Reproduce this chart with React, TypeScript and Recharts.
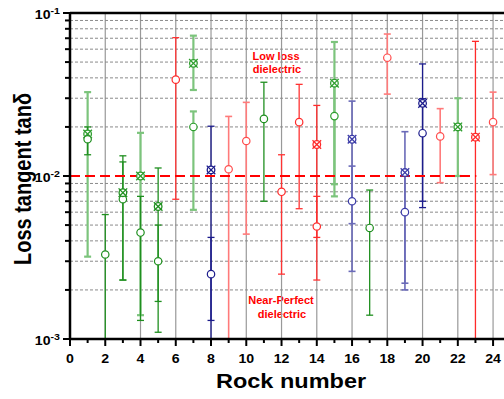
import React from 'react'
import { ScatterChart, Scatter, XAxis, YAxis, ErrorBar, ReferenceLine } from 'recharts'

// each entry: [rock, tan delta, lower bound, upper bound]
// lower bounds that run off the bottom of the plot are set to the axis floor (1e-3)
const greenCircles = [
  [1, 0.0168, 0.0135, 0.02],
  [2, 0.0033, 0.001, 0.0058],
  [3, 0.0072, 0.0023, 0.0122],
  [4, 0.0045, 0.0013, 0.0075],
  [5, 0.003, 0.0017, 0.005],
  [11, 0.0224, 0.007, 0.0376],
  [17, 0.0048, 0.0014, 0.0082],
]
const greenCrosses = [
  [3, 0.0079, 0.0023, 0.0133],
  [5, 0.0065, 0.0011, 0.0112],
]
const paleGreenCircles = [
  [7, 0.02, 0.0062, 0.0249],
  [15, 0.0233, 0.0075, 0.0371],
]
const paleGreenCrosses = [
  [1, 0.0181, 0.0032, 0.0327],
  [4, 0.01, 0.0014, 0.0184],
  [7, 0.0491, 0.0337, 0.0726],
  [15, 0.0371, 0.0089, 0.0664],
  [22, 0.02, 0.01, 0.03],
]
const redCircles = [
  [6, 0.039, 0.0072, 0.0706],
  [12, 0.008, 0.0025, 0.0135],
  [13, 0.0214, 0.0063, 0.0365],
  [14, 0.0049, 0.0023, 0.0075],
]
const redCrosses = [
  [14, 0.0156, 0.0042, 0.0271],
  [23, 0.0173, 0.001, 0.067],
]
const paleRedCircles = [
  [9, 0.011, 0.001, 0.0232],
  [10, 0.0164, 0.0044, 0.0283],
  [18, 0.0532, 0.0318, 0.0743],
  [21, 0.0175, 0.0091, 0.0259],
  [24, 0.0214, 0.0102, 0.0327],
]
const blueCircles = [
  [8, 0.0025, 0.0013, 0.0042],
  [20, 0.0183, 0.0064, 0.0487],
]
const blueCrosses = [
  [8, 0.0109, 0.001, 0.0202],
  [20, 0.0279, 0.007, 0.0298],
]
const paleBlueCircles = [
  [16, 0.007, 0.0026, 0.0115],
  [19, 0.006, 0.0022, 0.0105],
]
const paleBlueCrosses = [
  [16, 0.0168, 0.0051, 0.0288],
  [19, 0.0105, 0.002, 0.0187],
]

const xTicks = [0, 1, 2, 3, 4, 5, 6, 7, 8, 9, 10, 11, 12, 13, 14, 15, 16, 17, 18, 19, 20, 21, 22, 23, 24]
const xGridLines = [2, 4, 6, 8, 10, 12, 14, 16, 18, 20, 22, 24]
const yMajorTicks = [0.001, 0.01, 0.1]
const yMajorLabels = ['-3', '-2', '-1']
const yMinorTicks = [
  0.002, 0.003, 0.004, 0.005, 0.006, 0.007, 0.008, 0.009,
  0.02, 0.03, 0.04, 0.05, 0.06, 0.07, 0.08, 0.09,
]
const limitLine = 0.01

const FONT = '"Liberation Sans", Arial, sans-serif'
// the original figure is a bit wider than tall, so text is stretched sideways
const STRETCH = 1.18

const toPoints = (rows: number[][]) =>
  rows.map(([x, y, lo, hi]) => ({ x, y, err: [y - lo, hi - y] }))

const CircleMark = (color: string) => (p: any) => (
  <circle cx={p.cx} cy={p.cy} r={3.7} fill="#fff" stroke={color} strokeWidth={1.2} />
)

const CrossMark = (color: string) => (p: any) => (
  <g stroke={color} strokeWidth={1.3}>
    <circle cx={p.cx} cy={p.cy} r={3.8} fill="#fff" />
    <line x1={p.cx - 4.3} y1={p.cy - 4.3} x2={p.cx + 4.3} y2={p.cy + 4.3} />
    <line x1={p.cx - 4.3} y1={p.cy + 4.3} x2={p.cx + 4.3} y2={p.cy - 4.3} />
  </g>
)

const series = [
  { rows: paleGreenCrosses, mark: CrossMark, color: '#2e9e2e', bar: '#7cc47c', w: 2.2 },
  { rows: paleGreenCircles, mark: CircleMark, color: '#2e9e2e', bar: '#7cc47c', w: 2.2 },
  { rows: greenCircles, mark: CircleMark, color: '#1f8f1f', bar: '#1f8f1f', w: 1.3 },
  { rows: greenCrosses, mark: CrossMark, color: '#1f8f1f', bar: '#1f8f1f', w: 1.3 },
  { rows: paleRedCircles, mark: CircleMark, color: '#ff4d4d', bar: '#ff7a7a', w: 1.6 },
  { rows: redCircles, mark: CircleMark, color: '#ff2a2a', bar: '#ff3333', w: 1.3 },
  { rows: redCrosses, mark: CrossMark, color: '#ff2a2a', bar: '#ff2a2a', w: 1.3 },
  { rows: paleBlueCircles, mark: CircleMark, color: '#3c3ca8', bar: '#6a6ab8', w: 1.6 },
  { rows: paleBlueCrosses, mark: CrossMark, color: '#3c3ca8', bar: '#6a6ab8', w: 1.6 },
  { rows: blueCircles, mark: CircleMark, color: '#1c1c8c', bar: '#1c1c8c', w: 1.3 },
  { rows: blueCrosses, mark: CrossMark, color: '#1c1c8c', bar: '#1c1c8c', w: 1.3 },
]

const BottomTick = ({ x, y, payload }: any) => {
  const major = payload.value % 2 === 0
  return (
    <g>
      <line x1={x} x2={x} y1={y} y2={y + (major ? 7 : 4)} stroke="#000" strokeWidth={2} />
      {major && (
        <g transform={`translate(${x},${y + 24}) scale(${STRETCH},1)`}>
          <text x={0} y={0} textAnchor="middle" fontSize={12} fontWeight="bold" fontFamily={FONT} fill="#000">
            {payload.value}
          </text>
        </g>
      )}
    </g>
  )
}

const TopTick = ({ x, y, payload }: any) => {
  const major = payload.value % 2 === 0
  return <line x1={x} x2={x} y1={y} y2={y + (major ? 6 : 4)} stroke="#000" strokeWidth={2} />
}

const LeftTick = ({ x, y, payload }: any) => {
  const idx = yMajorTicks.indexOf(payload.value)
  const major = idx >= 0
  return (
    <g>
      <line x1={x - (major ? 7 : 5)} x2={x} y1={y} y2={y} stroke="#000" strokeWidth={2} />
      {major && (
        <g transform={`translate(${x - 10},${y + 6}) scale(${STRETCH},1)`}>
          <text x={0} y={0} textAnchor="end" fontWeight="bold" fontFamily={FONT} fill="#000">
            <tspan fontSize={12}>10</tspan>
            <tspan fontSize={9} dy={-5}>{yMajorLabels[idx]}</tspan>
          </text>
        </g>
      )}
    </g>
  )
}

export default function App() {
  return (
    <div style={{ position: 'absolute', left: 0, top: 0, width: 504, height: 399, background: '#fff' }}>
      <ScatterChart width={504} height={399} margin={{ top: 0, right: 0, bottom: 0, left: 0 }}>
        <XAxis
          dataKey="x"
          type="number"
          domain={[0, 24.62]}
          ticks={xTicks}
          interval={0}
          allowDataOverflow
          height={60}
          tickLine={false}
          tickSize={0}
          tickMargin={0}
          tick={(p: any) => <BottomTick {...p} />}
          axisLine={{ stroke: '#000', strokeWidth: 2.5 }}
        />
        <XAxis
          xAxisId="top"
          orientation="top"
          type="number"
          domain={[0, 24.62]}
          ticks={xTicks}
          interval={0}
          allowDataOverflow
          height={13}
          tickLine={false}
          tickSize={0}
          tickMargin={0}
          tick={(p: any) => <TopTick {...p} />}
          axisLine={{ stroke: '#000', strokeWidth: 2.5 }}
        />
        <YAxis
          dataKey="y"
          type="number"
          scale="log"
          domain={[0.001, 0.1]}
          ticks={[...yMajorTicks, ...yMinorTicks]}
          interval={0}
          allowDataOverflow
          width={70}
          tickLine={false}
          tickSize={0}
          tickMargin={0}
          tick={(p: any) => <LeftTick {...p} />}
          axisLine={{ stroke: '#000', strokeWidth: 2.5 }}
        />

        {xGridLines.map((v) => (
          <ReferenceLine key={`vx-${v}`} x={v} stroke="#999" strokeWidth={1.2} />
        ))}
        {yMinorTicks.map((v) => (
          <ReferenceLine key={`hy-${v}`} y={v} stroke="#8a8a8a" strokeWidth={1} strokeDasharray="3 2" />
        ))}

        {series.map((s, i) => (
          <Scatter
            key={`s-${i}`}
            data={toPoints(s.rows)}
            shape={s.mark(s.color)}
            isAnimationActive={false}
          >
            <ErrorBar dataKey="err" direction="y" width={3.5} stroke={s.bar} strokeWidth={s.w} />
          </Scatter>
        ))}

        <ReferenceLine
          segment={[{ x: 0, y: limitLine }, { x: 23.05, y: limitLine }]}
          stroke="#ff0000"
          strokeWidth={2.2}
          strokeDasharray="10 5"
        />

        <text x={276} y={60} textAnchor="middle" fontSize={11} fontWeight="bold" fontFamily={FONT} fill="#ff0000">Low loss</text>
        <text x={277} y={73} textAnchor="middle" fontSize={11} fontWeight="bold" fontFamily={FONT} fill="#ff0000">dielectric</text>
        <text x={281} y={304} textAnchor="middle" fontSize={11} fontWeight="bold" fontFamily={FONT} fill="#ff0000">Near-Perfect</text>
        <text x={282} y={318} textAnchor="middle" fontSize={11} fontWeight="bold" fontFamily={FONT} fill="#ff0000">dielectric</text>
        <g transform={`translate(291,388) scale(1.12,1)`}>
          <text x={0} y={0} textAnchor="middle" fontSize={21} fontWeight="bold" fontFamily={FONT} fill="#000">Rock number</text>
        </g>
        <g transform={`translate(23,179) rotate(-90) scale(1,${STRETCH})`}>
          <text x={0} y={0} textAnchor="middle" dominantBaseline="central" fontSize={20} fontWeight="bold" fontFamily={FONT} fill="#000">
            Loss tangent tanδ
          </text>
        </g>
      </ScatterChart>
    </div>
  )
}
